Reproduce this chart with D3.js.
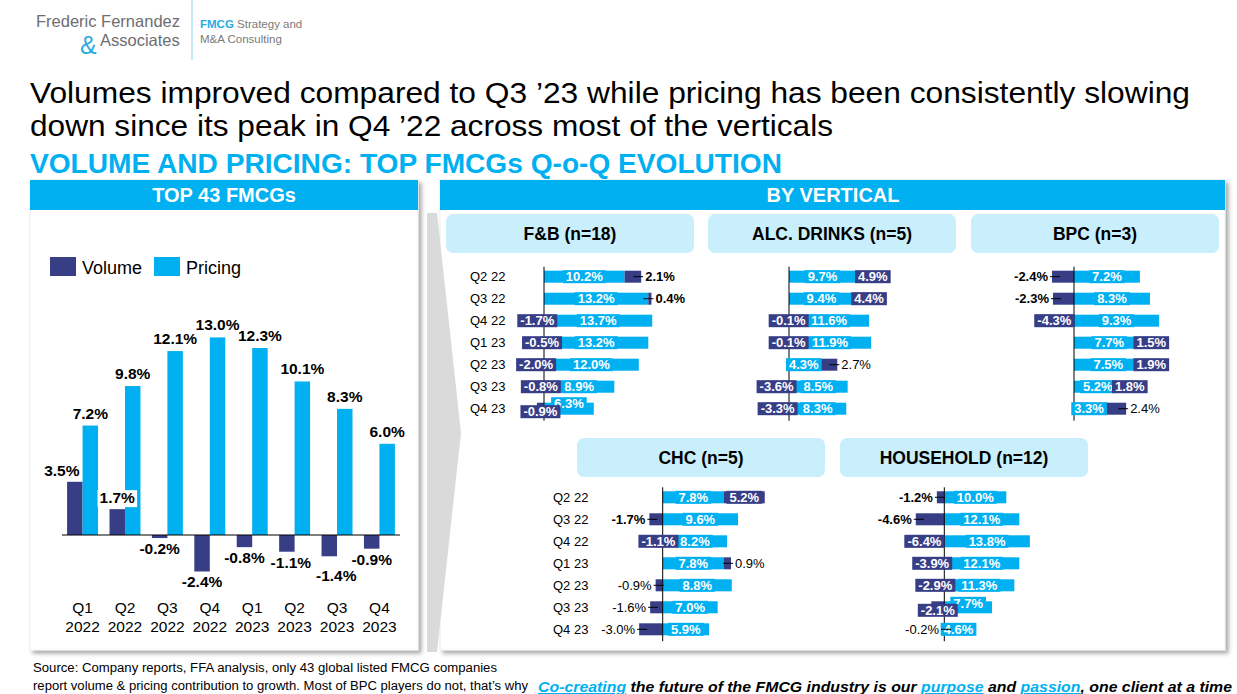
<!DOCTYPE html>
<html>
<head>
<meta charset="utf-8">
<script src="https://cdn.jsdelivr.net/npm/d3@7"></script>
<style>
  body { margin: 0; background: #fff; }
  svg text { font-family: "Liberation Sans", Arial, sans-serif; }
</style>
</head>
<body>
<svg id="chart" width="1237" height="694"></svg>
<script>
// Top 43 FMCGs, quarterly contribution to growth (%)
const quarters = ["Q1 2022", "Q2 2022", "Q3 2022", "Q4 2022", "Q1 2023", "Q2 2023", "Q3 2023", "Q4 2023"];
const totalVolume = [3.5, 1.7, -0.2, -2.4, -0.8, -1.1, -1.4, -0.9];
const totalPricing = [7.2, 9.8, 12.1, 13.0, 12.3, 10.1, 8.3, 6.0];

// By vertical
const periods = ["Q2 22", "Q3 22", "Q4 22", "Q1 23", "Q2 23", "Q3 23", "Q4 23"];
const verticals = ["F&B (n=18)", "ALC. DRINKS (n=5)", "BPC (n=3)", "CHC (n=5)", "HOUSEHOLD (n=12)"];
const fbPricing = [10.2, 13.2, 13.7, 13.2, 12.0, 8.9, 6.3];
const fbVolume = [2.1, 0.4, -1.7, -0.5, -2.0, -0.8, -0.9];
const alcPricing = [9.7, 9.4, 11.6, 11.9, 4.3, 8.5, 8.3];
const alcVolume = [4.9, 4.4, -0.1, -0.1, 2.7, -3.6, -3.3];
const bpcPricing = [7.2, 8.3, 9.3, 7.7, 7.5, 5.2, 3.3];
const bpcVolume = [-2.4, -2.3, -4.3, 1.5, 1.9, 1.8, 2.4];
const chcPricing = [7.8, 9.6, 8.2, 7.8, 8.8, 7.0, 5.9];
const chcVolume = [5.2, -1.7, -1.1, 0.9, -0.9, -1.6, -3.0];
const hhPricing = [10.0, 12.1, 13.8, 12.1, 11.3, 7.7, 4.6];
const hhVolume = [-1.2, -4.6, -6.4, -3.9, -2.9, -2.1, -0.2];

const volColor = "#373E86";
const priceColor = "#00B0F0";
const subHdrColor = "#C9EFFC";
const fmt = v => v.toFixed(1) + "%";

const svg = d3.select("#chart");

const defs = svg.append("defs");
defs.append("filter").attr("id", "shadow")
  .attr("x", "-5%").attr("y", "-5%").attr("width", "115%").attr("height", "115%")
  .append("feDropShadow")
  .attr("dx", 3).attr("dy", 3).attr("stdDeviation", 2)
  .attr("flood-color", "#000").attr("flood-opacity", 0.35);

// ---- logo ----
svg.append("text").attr("x", 36).attr("y", 27).attr("font-size", 16.5).attr("fill", "#6d6e71")
  .text("Frederic Fernandez");
svg.append("text").attr("x", 80).attr("y", 53.5).attr("font-size", 25).attr("fill", "#29abe2")
  .text("&");
svg.append("text").attr("x", 100).attr("y", 46).attr("font-size", 16.5).attr("fill", "#6d6e71")
  .text("Associates");
svg.append("line").attr("x1", 192).attr("x2", 192).attr("y1", 0).attr("y2", 60)
  .attr("stroke", "#8fd3f2").attr("stroke-width", 1);
const logo2 = svg.append("text").attr("x", 200).attr("y", 28).attr("font-size", 11.5).attr("fill", "#7a7a7a");
logo2.append("tspan").attr("fill", "#29abe2").attr("font-weight", "bold").text("FMCG");
logo2.append("tspan").text(" Strategy and");
svg.append("text").attr("x", 200).attr("y", 43).attr("font-size", 11.5).attr("fill", "#7a7a7a")
  .text("M&A Consulting");

// ---- titles ----
svg.append("text").attr("x", 30).attr("y", 103).attr("font-size", 30)
  .attr("textLength", 1160).attr("lengthAdjust", "spacingAndGlyphs")
  .text("Volumes improved compared to Q3 \u201923 while pricing has been consistently slowing");
svg.append("text").attr("x", 30).attr("y", 136).attr("font-size", 30)
  .attr("textLength", 803).attr("lengthAdjust", "spacingAndGlyphs")
  .text("down since its peak in Q4 \u201922 across most of the verticals");
svg.append("text").attr("x", 30).attr("y", 173).attr("font-size", 27).attr("font-weight", "bold")
  .attr("fill", priceColor).attr("textLength", 752).attr("lengthAdjust", "spacingAndGlyphs")
  .text("VOLUME AND PRICING: TOP FMCGs Q-o-Q EVOLUTION");

// ---- panels ----
svg.append("rect").attr("x", 30).attr("y", 180).attr("width", 388).attr("height", 470)
  .attr("fill", "#fff").attr("stroke", "#eee").attr("filter", "url(#shadow)");
svg.append("rect").attr("x", 30).attr("y", 180).attr("width", 388).attr("height", 30).attr("fill", priceColor);
svg.append("text").attr("x", 224).attr("y", 202).attr("text-anchor", "middle").attr("font-size", 20)
  .attr("font-weight", "bold").attr("fill", "#fff").text("TOP 43 FMCGs");

svg.append("rect").attr("x", 440).attr("y", 180).attr("width", 785).attr("height", 470)
  .attr("fill", "#fff").attr("stroke", "#eee").attr("filter", "url(#shadow)");
svg.append("rect").attr("x", 440).attr("y", 180).attr("width", 785).attr("height", 30).attr("fill", priceColor);
svg.append("text").attr("x", 833).attr("y", 202).attr("text-anchor", "middle").attr("font-size", 20)
  .attr("font-weight", "bold").attr("fill", "#fff").text("BY VERTICAL");

// grey chevron between panels
svg.append("path").attr("d", "M427,213L437,213L461,433L437,652L427,652Z").attr("fill", "#dadada");

// ---- left chart: top 43 FMCGs ----
const left = svg.append("g");
const x0 = d3.scaleBand().domain(quarters).range([62, 400]).paddingInner(0.27).paddingOuter(0.12);
const x1 = d3.scaleBand().domain(["volume", "pricing"]).range([0, x0.bandwidth()]);
const yL = d3.scaleLinear().domain([-3, 15]).range([580.6, 307]);

const totals = quarters.map((q, i) => ({ q, volume: totalVolume[i], pricing: totalPricing[i] }));

// legend
[["Volume", volColor, 50], ["Pricing", priceColor, 154]].forEach(([name, c, lx]) => {
  left.append("rect").attr("x", lx).attr("y", 257).attr("width", 26).attr("height", 19).attr("fill", c);
  left.append("text").attr("x", lx + 32).attr("y", 274).attr("font-size", 18).text(name);
});

totals.forEach(d => {
  ["volume", "pricing"].forEach(k => {
    const v = d[k];
    left.append("rect")
      .attr("x", x0(d.q) + x1(k))
      .attr("width", x1.bandwidth())
      .attr("y", yL(Math.max(0, v)))
      .attr("height", Math.abs(yL(v) - yL(0)))
      .attr("fill", k === "volume" ? volColor : priceColor);
  });
});

left.append("line").attr("x1", 62).attr("x2", 400).attr("y1", yL(0)).attr("y2", yL(0))
  .attr("stroke", "#000").attr("stroke-width", 1);

// label tweaks as placed on the slide
const leftNudge = { 0: { dx: -13 }, 5: { dx: 4 }, 6: { dx: 7, dy: 9 } };

totals.forEach((d, i) => {
  const pc = x0(d.q) + x1("pricing") + x1.bandwidth() / 2;
  left.append("text").attr("x", pc).attr("y", yL(d.pricing) - 7)
    .attr("text-anchor", "middle").attr("font-size", 15.5).attr("font-weight", "bold")
    .text(fmt(d.pricing));

  const n = leftNudge[i] || {};
  const vc = x0(d.q) + x1("volume") + x1.bandwidth() / 2 + (n.dx || 0);
  const vy = (d.volume >= 0 ? yL(d.volume) - 6 : yL(d.volume) + 16) + (n.dy || 0);
  const bg = left.append("rect").attr("fill", "#fff");
  const t = left.append("text").attr("x", vc).attr("y", vy)
    .attr("text-anchor", "middle").attr("font-size", 15.5).attr("font-weight", "bold")
    .text(fmt(d.volume));
  const bb = t.node().getBBox();
  bg.attr("x", bb.x - 2).attr("y", bb.y + 1).attr("width", bb.width + 4).attr("height", bb.height);

  const parts = d.q.split(" ");
  const xc = x0(d.q) + x0.bandwidth() / 2;
  left.append("text").attr("x", xc).attr("y", 613).attr("text-anchor", "middle").attr("font-size", 15.5).text(parts[0]);
  left.append("text").attr("x", xc).attr("y", 632).attr("text-anchor", "middle").attr("font-size", 15.5).text(parts[1]);
});

// ---- right: small panels by vertical ----
// modes: in = boxed label on the bar, out = outside with leader, outB = same in bold
const panels = [
  { title: verticals[0], pricing: fbPricing, volume: fbVolume, hx: 446, hy: 214, axisX: 544, k: 7.9, top: 265.7, catX: 470,
    modes: ["outB", "outB", "in", "in", "in", "in", "in"], nudge: { 6: { p: -5, v: 3 } } },
  { title: verticals[1], pricing: alcPricing, volume: alcVolume, hx: 708, hy: 214, axisX: 789, k: 6.9, top: 265.7,
    modes: ["in", "in", "in", "in", "out", "in", "in"], nudge: {} },
  { title: verticals[2], pricing: bpcPricing, volume: bpcVolume, hx: 971, hy: 214, axisX: 1074, k: 9.15, top: 265.7,
    modes: ["outB", "outB", "in", "in", "in", "in", "out"], nudge: {} },
  { title: verticals[3], pricing: chcPricing, volume: chcVolume, hx: 577, hy: 438, axisX: 662.7, k: 7.85, top: 486.3, catX: 553,
    modes: ["in", "outB", "in", "out", "out", "out", "out"], nudge: {} },
  { title: verticals[4], pricing: hhPricing, volume: hhVolume, hx: 840, hy: 438, axisX: 944.3, k: 6.2, top: 486.3,
    modes: ["outB", "outB", "in", "in", "in", "in", "out"], nudge: { 5: { p: -4, v: 3 } } }
];

function boxedLabel(g, cx, cy, txt, fill) {
  const bg = g.append("rect").attr("fill", fill);
  const t = g.append("text").attr("x", cx).attr("y", cy + 4.5)
    .attr("text-anchor", "middle").attr("font-size", 13).attr("font-weight", "bold")
    .attr("fill", "#fff").text(txt);
  const w = t.node().getComputedTextLength() + 6;
  bg.attr("x", cx - w / 2).attr("y", cy - 6.5).attr("width", w).attr("height", 13);
}

panels.forEach(p => {
  const g = svg.append("g");
  g.append("rect").attr("x", p.hx).attr("y", p.hy).attr("width", 248).attr("height", 39)
    .attr("rx", 7).attr("fill", subHdrColor);
  g.append("text").attr("x", p.hx + 124).attr("y", p.hy + 26).attr("text-anchor", "middle")
    .attr("font-size", 17.5).attr("font-weight", "bold").text(p.title);

  const x = d3.scaleLinear().domain([-8, 16]).range([p.axisX - 8 * p.k, p.axisX + 16 * p.k]);
  const y = d3.scaleBand().domain(periods).range([p.top, p.top + 154])
    .paddingInner(0.4545).paddingOuter(0.227);

  const rows = periods.map((d, i) => ({ period: d, pricing: p.pricing[i], volume: p.volume[i] }));
  const series = d3.stack().keys(["pricing", "volume"]).offset(d3.stackOffsetDiverging)(rows);

  if (p.catX) {
    periods.forEach(d => {
      g.append("text").attr("x", p.catX).attr("y", y(d) + y.bandwidth() / 2 + 4.5)
        .attr("font-size", 13).text(d);
    });
  }

  series.forEach(s => {
    g.selectAll(null).data(s).join("rect")
      .attr("x", d => x(Math.min(d[0], d[1])))
      .attr("width", d => Math.abs(x(d[1]) - x(d[0])))
      .attr("y", d => y(d.data.period))
      .attr("height", y.bandwidth())
      .attr("fill", s.key === "volume" ? volColor : priceColor);
  });

  g.append("line").attr("x1", x(0)).attr("x2", x(0)).attr("y1", p.top + 1).attr("y2", p.top + 155)
    .attr("stroke", "#000").attr("stroke-width", 1);

  const pSeries = series.find(s => s.key === "pricing");
  const vSeries = series.find(s => s.key === "volume");

  pSeries.forEach((d, i) => {
    const n = p.nudge[i] || {};
    const cy = y(d.data.period) + y.bandwidth() / 2 + (n.p || 0);
    boxedLabel(g, (x(d[0]) + x(d[1])) / 2, cy, fmt(d.data.pricing), priceColor);
  });

  vSeries.forEach((d, i) => {
    const n = p.nudge[i] || {};
    const v = d.data.volume;
    const cy = y(d.data.period) + y.bandwidth() / 2;
    const mode = p.modes[i];
    if (mode === "in") {
      boxedLabel(g, (x(d[0]) + x(d[1])) / 2, cy + (n.v || 0), fmt(v), volColor);
    } else {
      const end = v >= 0 ? x(d[1]) : x(d[0]);
      const dir = v >= 0 ? 1 : -1;
      g.append("line").attr("x1", end - 8 * dir).attr("x2", end + 2 * dir)
        .attr("y1", cy).attr("y2", cy).attr("stroke", "#000").attr("stroke-width", 1);
      g.append("text").attr("x", end + 4 * dir).attr("y", cy + 4.5)
        .attr("text-anchor", dir > 0 ? "start" : "end")
        .attr("font-size", 13).attr("font-weight", mode === "outB" ? "bold" : "normal")
        .text(fmt(v));
    }
  });
});

// ---- footer ----
svg.append("text").attr("x", 33).attr("y", 672).attr("font-size", 12.5)
  .attr("textLength", 464).attr("lengthAdjust", "spacingAndGlyphs")
  .text("Source: Company reports, FFA analysis, only 43 global listed FMCG companies");
svg.append("text").attr("x", 33).attr("y", 690).attr("font-size", 12.5)
  .attr("textLength", 495).attr("lengthAdjust", "spacingAndGlyphs")
  .text("report volume & pricing contribution to growth. Most of BPC players do not, that\u2019s why");

const tag = svg.append("text").attr("x", 538).attr("y", 692).attr("font-size", 14.5)
  .attr("font-weight", "bold").attr("font-style", "italic")
  .attr("textLength", 694).attr("lengthAdjust", "spacingAndGlyphs");
[["Co-creating", true], [" the future of the FMCG industry is our ", false], ["purpose", true],
 [" and ", false], ["passion", true], [", one client at a time", false]].forEach(([s, hi]) => {
  const ts = tag.append("tspan").text(s);
  if (hi) ts.attr("fill", priceColor).attr("text-decoration", "underline");
});
</script>
</body>
</html>
